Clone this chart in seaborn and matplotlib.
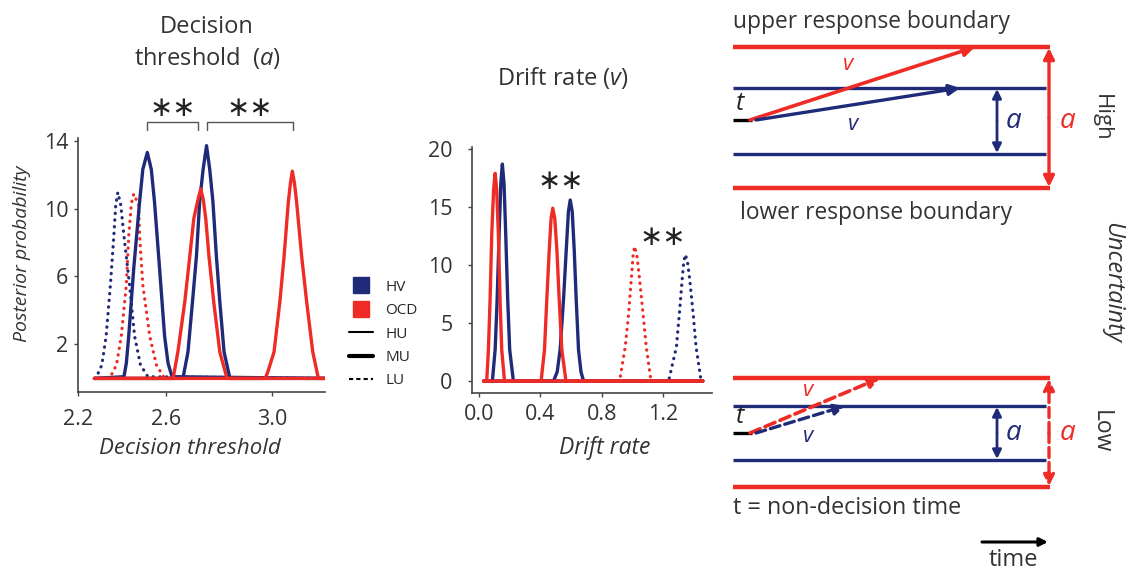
import numpy as np
import pandas as pd
import matplotlib.pyplot as plt
import seaborn as sns
from matplotlib.lines import Line2D

# colours
navy = "#1f2b78"
red = "#ee2b24"
ink = "#333333"

# ---- Decision threshold (a) posterior curves ----
a_hv_lu_x = [2.332, 2.340, 2.360, 2.376, 2.392, 2.405, 2.412, 2.420, 2.431, 2.443, 2.464, 2.483, 2.505, 2.533, 3.2]
a_hv_lu_y = [0, 0.1, 0.8, 2.5, 5.5, 8.4, 10.2, 10.95, 10.2, 8.4, 5.5, 2.5, 0.8, 0.1, 0]
a_ocd_lu_x = [2.332, 2.389, 2.415, 2.433, 2.452, 2.461, 2.471, 2.480, 2.490, 2.498, 2.502, 2.514, 2.540, 2.565, 2.596, 3.2]
a_ocd_lu_y = [0, 0, 0.8, 2.5, 5.5, 8.4, 10.3, 10.86, 10.5, 10.2, 8.4, 5.5, 2.5, 0.8, 0, 0]
a_hv_mu_x = [2.332, 2.443, 2.452, 2.461, 2.480, 2.502, 2.514, 2.531, 2.546, 2.558, 2.577, 2.596, 2.609, 2.624, 3.2]
a_hv_mu_y = [0, 0.1, 0.9, 2.5, 6.5, 10.4, 12.3, 13.3, 12.3, 10.4, 6.5, 2.5, 0.9, 0.1, 0]
a_ocd_mu_x = [2.332, 2.628, 2.646, 2.672, 2.691, 2.706, 2.720, 2.732, 2.742, 2.751, 2.763, 2.781, 2.804, 2.831, 3.2]
a_ocd_mu_y = [0, 0, 1.55, 4.5, 7.2, 9.4, 10.4, 11.16, 10.5, 9.4, 7.2, 4.5, 1.55, 0, 0]
a_hv_hu_x = [2.332, 2.665, 2.684, 2.701, 2.716, 2.728, 2.741, 2.754, 2.766, 2.778, 2.791, 2.804, 2.820, 2.842, 3.2]
a_hv_hu_y = [0, 0, 1.55, 4.5, 7.2, 10.4, 12.3, 13.7, 12.3, 10.4, 7.2, 4.5, 1.55, 0, 0]
a_ocd_hu_x = [2.332, 2.975, 2.985, 3.008, 3.030, 3.046, 3.062, 3.070, 3.077, 3.085, 3.093, 3.112, 3.131, 3.154, 3.175, 3.2]
a_ocd_hu_y = [0, 0, 0.4, 1.55, 4.5, 7.2, 10.4, 11.5, 12.2, 11.5, 10.4, 7.2, 4.5, 1.55, 0, 0]

a_xticks = [2.27, 2.6, 3.0]
a_xticklabels = ["2.2", "2.6", "3.0"]
a_yticks = [2, 6, 10, 14]
# significance brackets (start, end) in threshold units
a_brackets = [(2.53, 2.72), (2.755, 3.08)]

# ---- Drift rate (v) posterior curves ----
v_ocd_hu_x = [0.03, 0.050, 0.061, 0.072, 0.083, 0.095, 0.105, 0.115, 0.126, 0.137, 0.148, 0.166, 1.46]
v_ocd_hu_y = [0, 0, 2.7, 7.0, 12.7, 16.5, 17.9, 16.5, 12.7, 7.0, 2.7, 0, 0]
v_hv_hu_x = [0.03, 0.087, 0.105, 0.118, 0.131, 0.142, 0.152, 0.163, 0.174, 0.187, 0.200, 0.224, 1.46]
v_hv_hu_y = [0, 0, 2.7, 7.0, 12.7, 17.0, 18.7, 17.0, 12.7, 7.0, 2.7, 0, 0]
v_ocd_mu_x = [0.03, 0.405, 0.427, 0.442, 0.458, 0.470, 0.481, 0.494, 0.508, 0.523, 0.540, 0.567, 1.46]
v_ocd_mu_y = [0, 0, 2.7, 7.0, 11.3, 14.0, 14.9, 14.0, 11.3, 7.0, 2.7, 0, 0]
v_hv_mu_x = [0.03, 0.486, 0.510, 0.529, 0.551, 0.569, 0.583, 0.595, 0.608, 0.621, 0.634, 0.649, 0.665, 0.682, 1.46]
v_hv_mu_y = [0, 0, 0.8, 2.7, 7.0, 11.3, 14.6, 15.6, 14.6, 11.3, 7.0, 2.7, 0.8, 0, 0]
v_ocd_lu_x = [0.03, 0.917, 0.954, 0.976, 0.993, 1.005, 1.015, 1.030, 1.048, 1.070, 1.091, 1.122, 1.46]
v_ocd_lu_y = [0, 0, 2.96, 5.8, 8.7, 10.8, 11.6, 10.8, 8.7, 5.8, 2.96, 0, 0]
v_hv_lu_x = [0.03, 1.237, 1.288, 1.307, 1.325, 1.336, 1.346, 1.360, 1.375, 1.397, 1.416, 1.449, 1.46]
v_hv_lu_y = [0, 0, 2.96, 5.8, 8.7, 10.3, 10.9, 10.3, 8.7, 5.8, 2.96, 0, 0]

v_xticks = [0.0, 0.4, 0.8, 1.2]
v_yticks = [0, 5, 10, 15, 20]
# star positions (x, y) in drift-rate units
v_stars = [(0.53, 17.2), (1.2, 12.4)]

# ================================
# style
# ================================
sns.set_style("ticks")
plt.rcParams["font.family"] = ["Open Sans", "DejaVu Sans"]
plt.rcParams["mathtext.fontset"] = "custom"
plt.rcParams["mathtext.it"] = "Open Sans:italic"
plt.rcParams["mathtext.rm"] = "Open Sans"
plt.rcParams["axes.edgecolor"] = "#444444"
plt.rcParams["xtick.color"] = "#444444"
plt.rcParams["ytick.color"] = "#444444"

W, H = 1129, 570
fig = plt.figure(figsize=(W / 100, H / 100), dpi=100)

DOTS = (0, (0.1, 2.0))


def px_axes(left, top, right, bottom):
    return fig.add_axes([left / W, 1 - bottom / H, (right - left) / W, (bottom - top) / H])


def curve(ax, xs, ys, color, ls="-", lw=2.4):
    sns.lineplot(x=xs, y=ys, color=color, linestyle=ls, linewidth=lw,
                 dash_capstyle="round", solid_joinstyle="round",
                 sort=False, estimator=None, ax=ax)


# ================================
# Decision threshold panel
# ================================
ax1 = px_axes(78, 138, 325, 392)
curve(ax1, a_hv_lu_x, a_hv_lu_y, navy, DOTS, 2.3)
curve(ax1, a_ocd_lu_x, a_ocd_lu_y, red, DOTS, 2.3)
curve(ax1, a_hv_mu_x, a_hv_mu_y, navy)
curve(ax1, a_hv_hu_x, a_hv_hu_y, navy)
curve(ax1, a_ocd_mu_x, a_ocd_mu_y, red)
curve(ax1, a_ocd_hu_x, a_ocd_hu_y, red)
ax1.set_xlim(2.27, 3.2)
ax1.set_ylim(-0.8, 14.15)
ax1.set_xticks(a_xticks)
ax1.set_xticklabels(a_xticklabels)
ax1.set_yticks(a_yticks)
ax1.set_xlabel("")
ax1.set_ylabel("")
for x0, x1 in a_brackets:
    ax1.plot([x0, x0, x1, x1], [14.6, 15.1, 15.1, 14.6], color="#555555", lw=1.0, clip_on=False)
    ax1.text((x0 + x1) / 2, 15.9, "∗∗", ha="center", va="center", fontsize=20,
             color="#222222", family="DejaVu Sans", clip_on=False)

# ================================
# Drift rate panel
# ================================
ax2 = px_axes(472, 147, 712, 393)
curve(ax2, v_hv_hu_x, v_hv_hu_y, navy)
curve(ax2, v_hv_mu_x, v_hv_mu_y, navy)
curve(ax2, v_hv_lu_x, v_hv_lu_y, navy, DOTS, 2.3)
curve(ax2, v_ocd_hu_x, v_ocd_hu_y, red)
curve(ax2, v_ocd_mu_x, v_ocd_mu_y, red)
curve(ax2, v_ocd_lu_x, v_ocd_lu_y, red, DOTS, 2.3)
ax2.set_xlim(-0.046, 1.52)
ax2.set_ylim(-1.03, 20.17)
ax2.set_xticks(v_xticks)
ax2.set_yticks(v_yticks)
ax2.set_xlabel("")
ax2.set_ylabel("")
for sx, sy in v_stars:
    ax2.text(sx, sy, "∗∗", ha="center", va="center", fontsize=20,
             color="#222222", family="DejaVu Sans", clip_on=False)

for ax in (ax1, ax2):
    sns.despine(ax=ax)
    ax.tick_params(labelsize=15.5, labelcolor=ink, length=3, width=1.0)
    for s in ("left", "bottom"):
        ax.spines[s].set_linewidth(1.2)
ax1.tick_params(axis="y", pad=4)
ax1.tick_params(axis="x", pad=9)
ax2.tick_params(axis="y", pad=11)
ax2.tick_params(axis="x", pad=5)

# titles and labels
fig.text(207 / W, 1 - 27 / H, "Decision", ha="center", va="center", fontsize=17, color=ink)
fig.text(207 / W, 1 - 58 / H, r"threshold  ($\it{a}$)", ha="center", va="center", fontsize=17, color=ink)
fig.text(563 / W, 1 - 78 / H, r"Drift rate ($\it{v}$)", ha="center", va="center", fontsize=17, color=ink)
fig.text(22 / W, 1 - 254 / H, "Posterior probability", ha="center", va="center",
         rotation=90, fontsize=14, style="italic", color=ink)
fig.text(190 / W, 1 - 448 / H, "Decision threshold", ha="center", va="center",
         fontsize=16, style="italic", color=ink)
fig.text(605 / W, 1 - 448 / H, "Drift rate", ha="center", va="center",
         fontsize=16.5, style="italic", color=ink)

# legend
handles = [
    Line2D([], [], color=navy, marker="s", ls="none", markersize=11),
    Line2D([], [], color=red, marker="s", ls="none", markersize=11),
    Line2D([], [], color="black", ls="-", lw=1.5),
    Line2D([], [], color="black", ls="-", lw=3.0),
    Line2D([], [], color="black", ls="--", lw=1.5, dashes=(2, 1.5)),
]
fig.legend(handles, ["HV", "OCD", "HU", "MU", "LU"], loc="upper left",
           bbox_to_anchor=(335 / W, 1 - 266 / H), frameon=False, fontsize=11,
           handlelength=1.6, labelspacing=0.55, handletextpad=0.8)

# ================================
# DDM schematic (pixel coordinates)
# ================================
sk = fig.add_axes([0, 0, 1, 1])
sk.set_xlim(0, W)
sk.set_ylim(H, 0)
sk.axis("off")
sk.patch.set_alpha(0)


def arrow(x0, y0, x1, y1, color, style="-|>", ls="-", lw=2.5, scale=16):
    sk.annotate("", xy=(x1, y1), xytext=(x0, y0),
                arrowprops=dict(arrowstyle=style, color=color, lw=lw, linestyle=ls,
                                mutation_scale=scale, shrinkA=0, shrinkB=0))


def diagram(yr_top, yn_top, yn_bot, yr_bot, y_t, red_tip, navy_tip, dashed):
    ls = (0, (3, 1.5)) if dashed else "-"
    sk.plot([733, 1050], [yr_top, yr_top], color=red, lw=3.2, solid_capstyle="butt")
    sk.plot([733, 1050], [yr_bot, yr_bot], color=red, lw=3.2, solid_capstyle="butt")
    sk.plot([733, 1046], [yn_top, yn_top], color=navy, lw=2.4, solid_capstyle="butt")
    sk.plot([733, 1046], [yn_bot, yn_bot], color=navy, lw=2.4, solid_capstyle="butt")
    sk.plot([733, 752], [y_t, y_t], color="black", lw=2.4, solid_capstyle="butt")
    sk.text(736, y_t - 4, "t", fontsize=18, style="italic", ha="left", va="bottom", color="#222222")
    arrow(750, y_t, red_tip[0], red_tip[1], red, ls=ls, lw=2.6)
    arrow(756, y_t, navy_tip[0], navy_tip[1], navy, ls=ls, lw=2.4)
    arrow(1049, (yr_top + yr_bot) / 2, 1049, yr_top + 1, red, style="-|>", ls=ls, lw=2.4)
    arrow(1049, (yr_top + yr_bot) / 2, 1049, yr_bot - 1, red, style="-|>", ls=ls, lw=2.4)
    arrow(997, (yn_top + yn_bot) / 2, 997, yn_top + 1, navy, style="-|>", lw=2.0, scale=13)
    arrow(997, (yn_top + yn_bot) / 2, 997, yn_bot - 1, navy, style="-|>", lw=2.0, scale=13)
    yc = (yn_top + yn_bot) / 2
    sk.text(1006, yc, "a", fontsize=20, style="italic", color=navy, ha="left", va="center")
    sk.text(1060, yc, "a", fontsize=20, style="italic", color=red, ha="left", va="center")


diagram(47, 88, 154, 188, 120, (975, 47), (960, 88), False)
sk.text(848, 64, "v", fontsize=16, style="italic", color=red, ha="center", va="center")
sk.text(853, 124, "v", fontsize=16, style="italic", color=navy, ha="center", va="center")
sk.text(1101, 118, "High", fontsize=16, rotation=-90, ha="center", va="center", color=ink)
sk.text(733, 22, "upper response boundary", fontsize=16.4, ha="left", va="center", color=ink)
sk.text(740, 213, "lower response boundary", fontsize=16.4, ha="left", va="center", color=ink)

diagram(378, 406, 460, 487, 433, (880, 378), (845, 406), True)
sk.text(808, 391, "v", fontsize=16, style="italic", color=red, ha="center", va="center")
sk.text(808, 437, "v", fontsize=16, style="italic", color=navy, ha="center", va="center")
sk.text(1101, 432, "Low", fontsize=16.5, rotation=-90, ha="center", va="center", color=ink)
sk.text(1112, 282, "Uncertainty", fontsize=17, rotation=-90, style="italic",
        ha="center", va="center", color=ink)
sk.text(733, 508, "t = non-decision time", fontsize=16.8, ha="left", va="center", color=ink)
arrow(982, 542, 1048, 542, "black", lw=2.2, scale=12)
sk.text(1013, 560, "time", fontsize=17, ha="center", va="center", color=ink)

plt.savefig("out.png", dpi=100)
